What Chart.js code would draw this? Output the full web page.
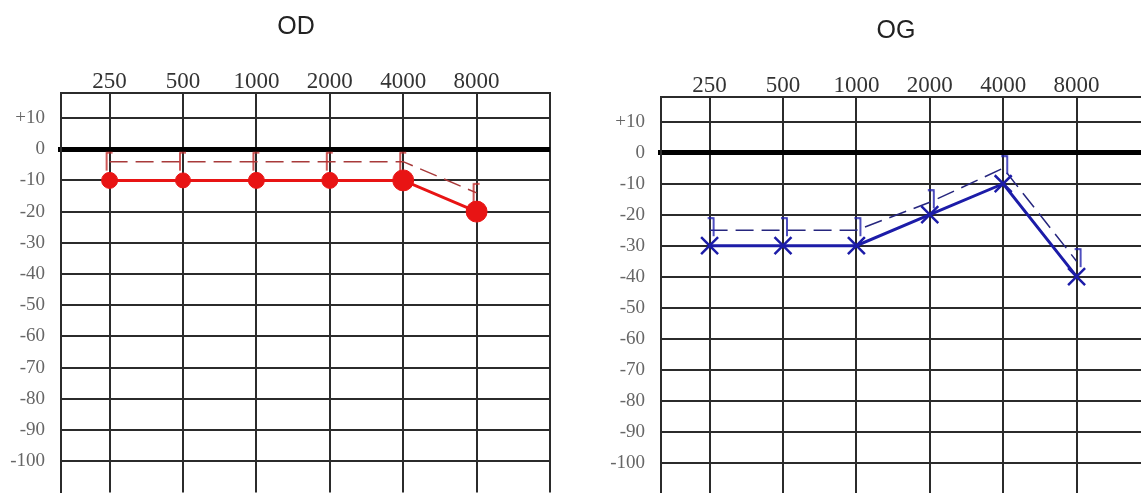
<!DOCTYPE html>
<html lang="fr">
<head>
  <meta charset="UTF-8"/>
  <title>Audiogramme OD / OG</title>
  <script src="https://cdn.jsdelivr.net/npm/chart.js"></script>
  <style>
    body {
      margin: 0;
      background: #fff;
      width: 1141px;
      height: 493px;
      overflow: hidden;
      position: relative;
    }
    canvas { position: absolute; }
    #od { left: 0; top: 0; }
    #og { left: 600px; top: 4px; }
  </style>
</head>
<body>

<canvas id="od" width="592" height="504"></canvas>
<canvas id="og" width="592" height="504"></canvas>

<script>
  // frequencies (Hz) and hearing levels (dB)
  const freqs = [250, 500, 1000, 2000, 4000, 8000];
  const freqLabels = ["250", "500", "1000", "2000", "4000", "8000"];
  const dbTicks = [-100, -90, -80, -70, -60, -50, -40, -30, -20, -10, 0, 10];
  const dbLabels = ["-100", "-90", "-80", "-70", "-60", "-50", "-40", "-30", "-20", "-10", "0", "+10"];

  const odAir = [-10, -10, -10, -10, -10, -20];
  const odBone = [-4, -4, -4, -4, -4, -14];
  const ogAir = [-30, -30, -30, -20, -10, -40];
  const ogBone = [-25, -25, -25, -16, -5, -35];

  const gridColor = "#2b2b2b";

  // bone conduction bracket symbol, drawn on a small canvas
  function makeBracket(color, side) {
    const c = document.createElement("canvas");
    c.width = 20;
    c.height = 26;
    const g = c.getContext("2d");
    g.strokeStyle = color;
    g.lineWidth = 1.6;
    g.beginPath();
    if (side === "left") {
      g.moveTo(13, 4); g.lineTo(7, 4); g.lineTo(7, 22);
    } else {
      g.moveTo(8, 1); g.lineTo(14, 1); g.lineTo(14, 19);
    }
    g.stroke();
    return c;
  }

  function toPoints(values) {
    return freqs.map((f, i) => ({ x: f, y: values[i] }));
  }

  function makeChart(id, title, air, bone, st) {
    new Chart(document.getElementById(id), {
      type: "line",
      data: {
        datasets: [
          {
            data: toPoints(air),
            borderColor: st.color,
            borderWidth: 3,
            tension: 0,
            pointStyle: st.point,
            pointRadius: st.radius,
            pointBackgroundColor: st.color,
            pointBorderColor: st.color,
            pointBorderWidth: st.pointWidth
          },
          {
            data: toPoints(bone),
            borderColor: st.dash,
            borderWidth: 1.5,
            borderDash: [18, 8],
            tension: 0,
            pointStyle: makeBracket(st.bracket, st.side),
            pointRadius: 5
          }
        ]
      },
      options: {
        responsive: false,
        animation: false,
        layout: { padding: 0 },
        plugins: {
          legend: { display: false },
          tooltip: { enabled: false },
          title: {
            display: true,
            text: title,
            color: "#222",
            font: { family: "Liberation Sans", size: 25, weight: "normal" },
            padding: { top: 12, bottom: 0 }
          }
        },
        scales: {
          x: {
            type: "logarithmic",
            position: "top",
            min: 158,
            max: 16000,
            afterBuildTicks: s => { s.ticks = freqs.concat([16000]).map(v => ({ value: v })); },
            afterFit: s => { s.height = 51; s.paddingLeft = 0; s.paddingRight = 0; },
            ticks: {
              callback: v => { const i = freqs.indexOf(v); return i >= 0 ? freqLabels[i] : ""; },
              font: { family: "Liberation Serif", size: 23 },
              color: "#333",
              padding: -3,
              autoSkip: false,
              maxRotation: 0,
              minRotation: 0
            },
            grid: { color: gridColor, lineWidth: 2, drawTicks: false },
            border: { display: true, color: gridColor, width: 2 }
          },
          y: {
            min: -110,
            max: 18,
            afterBuildTicks: s => { s.ticks = dbTicks.map(v => ({ value: v })); },
            afterFit: s => { s.width = 61; s.paddingTop = 0; s.paddingBottom = 0; },
            ticks: {
              callback: v => dbLabels[dbTicks.indexOf(v)],
              font: { family: "Liberation Serif", size: 19 },
              color: "#666",
              padding: 13
            },
            grid: {
              color: c => (c.tick && c.tick.value === 0 ? "#000" : gridColor),
              lineWidth: c => (c.tick && c.tick.value === 0 ? 5 : 2),
              drawTicks: true,
              tickLength: 3,
              tickWidth: 5,
              tickColor: c => (c.tick && c.tick.value === 0 ? "#000" : "rgba(0,0,0,0)")
            },
            border: { display: true, color: gridColor, width: 2 }
          },
          // empty right-hand strip so the title centres like the original
          spacer: {
            type: "linear",
            position: "right",
            afterFit: s => { s.width = 42; s.paddingTop = 0; s.paddingBottom = 0; },
            ticks: { display: false },
            grid: { display: false },
            border: { display: false }
          }
        }
      }
    });
  }

  makeChart("od", "OD", odAir, odBone, {
    color: "#e81414",
    point: "circle",
    radius: [8, 7.5, 8, 8, 10.5, 10.5],
    pointWidth: 1,
    dash: "#a83a3a",
    bracket: "#c23030",
    side: "left"
  });

  makeChart("og", "OG", ogAir, ogBone, {
    color: "#1c1ca8",
    point: "crossRot",
    radius: 12,
    pointWidth: 2.5,
    dash: "#26267e",
    bracket: "#2323b0",
    side: "right"
  });
</script>

</body>
</html>
